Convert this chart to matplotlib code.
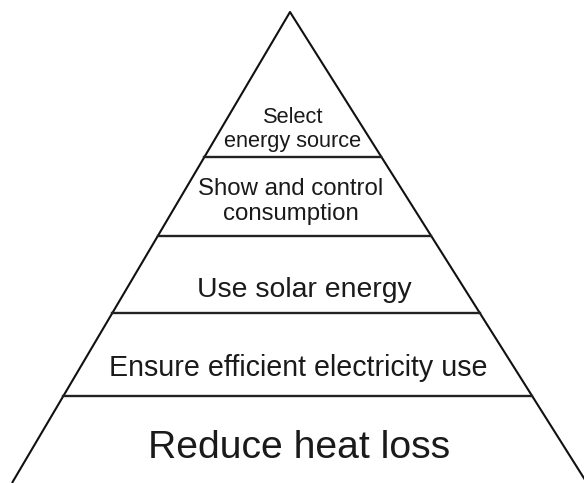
import matplotlib.pyplot as plt

# pyramid tiers, top to bottom (one entry per text line)
tier_lines = [['Select', 'energy source'],
              ['Show and control', 'consumption'],
              ['Use solar energy'],
              ['Ensure efficient electricity use'],
              ['Reduce heat loss']]
font_sizes = [15.7, 17.3, 20.4, 20.6, 28.2]
label_x = [293, 291, 304, 298.5, 299]
# baselines of each text line, pixels from top
baselines = [[123, 147], [195, 220], [297], [376], [458]]
# y positions of the dividing lines (pixels from top)
dividers = [157, 236, 313, 396]

apex = (290, 12)
base_left = (12, 483)
base_right = (587, 483)


def edge_x(p, q, y):
    return p[0] + (q[0] - p[0]) * (y - p[1]) / (q[1] - p[1])


fig = plt.figure(figsize=(5.84, 4.83), dpi=100)
ax = fig.add_axes([0, 0, 1, 1])
ax.set_xlim(0, 584)
ax.set_ylim(483, 0)
ax.axis('off')

# triangle sides
ax.plot([base_left[0], apex[0], base_right[0]], [base_left[1], apex[1], base_right[1]],
        color='#111111', lw=1.5, solid_capstyle='butt')

# horizontal dividers
for y in dividers:
    ax.plot([edge_x(apex, base_left, y), edge_x(apex, base_right, y)], [y, y],
            color='#222222', lw=1.7)

for lines, fs, x, ys in zip(tier_lines, font_sizes, label_x, baselines):
    for line, y in zip(lines, ys):
        ax.text(x, y, line, ha='center', va='baseline', fontsize=fs,
                family='Liberation Sans', color='#1a1a1a')

plt.savefig('out.png', dpi=100)
